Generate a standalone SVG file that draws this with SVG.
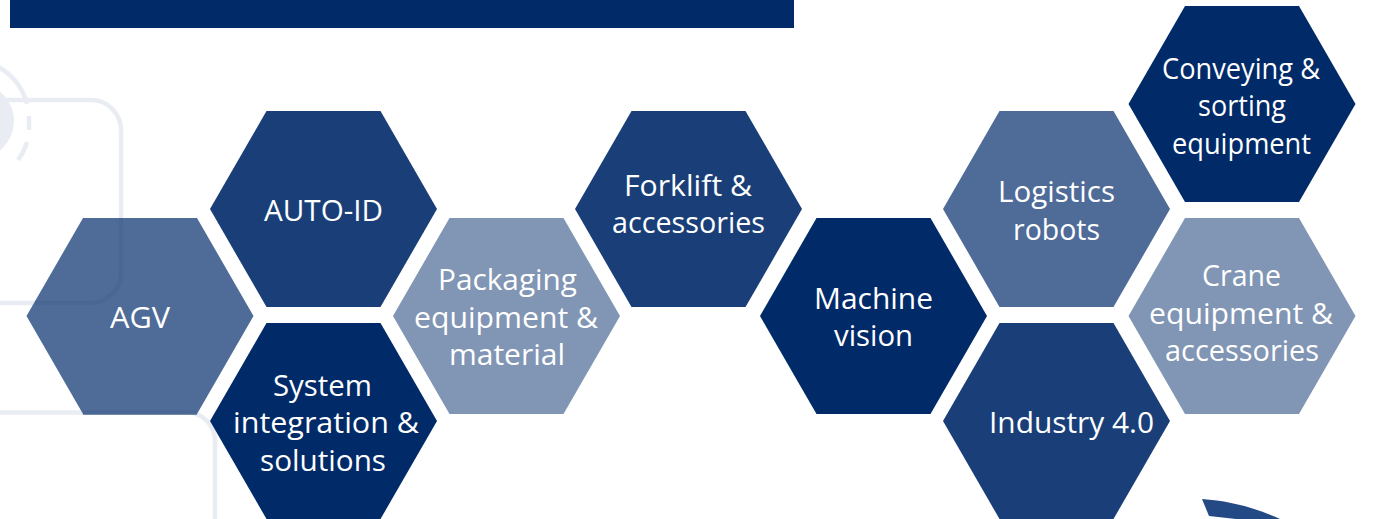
<svg xmlns="http://www.w3.org/2000/svg" width="1381" height="519" viewBox="0 0 1381 519">
<style>
.a{fill:#002a68}.b{fill:#1a3f78}.c{fill:#4f6c98}.d{fill:#8195b4}
.t{font-family:"Open Sans","Noto Sans",sans-serif;font-size:29px;fill:#fff;text-anchor:middle}
.bg{fill:none;stroke:#e9edf3;stroke-width:4.5}
.ov{fill:none;stroke:#4a6793;stroke-width:4.5}
</style>
<defs><polygon id="h" points="-113.5,0 -57,-98 57,-98 113.5,0 57,98 -57,98"/></defs>
<rect width="1381" height="519" fill="#fff"/>
<rect x="10" y="0" width="784" height="28" fill="#002a68"/>
<g id="background">
<circle cx="-24" cy="121" r="38" fill="#e9edf3"/>
<path class="bg" d="M-8 64A58 58 0 0 1 27 104"/>
<path class="bg" d="M29 116V130"/>
<path class="bg" d="M27 142A58 58 0 0 1 18 160"/>
<path class="bg" d="M5 100H91A30 30 0 0 1 121 130V273A30 30 0 0 1 91 303H0"/>
<path class="bg" d="M0 412.500H187A28 28 0 0 1 215 441V519"/>
</g>
<g id="connectors"/>
<g id="agv"><use href="#h" class="c" x="140" y="316"/><path class="ov" d="M121 218V273A30 30 0 0 1 91 303H35"/><path class="ov" d="M83 412.500H197"/><text class="t" x="140" y="328" textLength="60" lengthAdjust="spacingAndGlyphs">AGV</text></g>
<g id="auto-id"><use href="#h" class="b" x="323.5" y="209"/><text class="t" x="323.5" y="221" textLength="119" lengthAdjust="spacingAndGlyphs">AUTO-ID</text></g>
<g id="system"><use href="#h" class="a" x="323.5" y="421"/><text class="t" x="322.500" y="396" textLength="99" lengthAdjust="spacingAndGlyphs">System</text><text class="t" x="326" y="433" textLength="186" lengthAdjust="spacingAndGlyphs">integration &amp;</text><text class="t" x="323" y="471" textLength="126" lengthAdjust="spacingAndGlyphs">solutions</text></g>
<g id="packaging"><use href="#h" class="d" x="506.5" y="316"/><text class="t" x="507.500" y="290" textLength="139" lengthAdjust="spacingAndGlyphs">Packaging</text><text class="t" x="506" y="328" textLength="184" lengthAdjust="spacingAndGlyphs">equipment &amp;</text><text class="t" x="507" y="365" textLength="116" lengthAdjust="spacingAndGlyphs">material</text></g>
<g id="forklift"><use href="#h" class="b" x="688.5" y="209"/><text class="t" x="688" y="196" textLength="128" lengthAdjust="spacingAndGlyphs">Forklift &amp;</text><text class="t" x="688.500" y="233" textLength="153" lengthAdjust="spacingAndGlyphs">accessories</text></g>
<g id="machine"><use href="#h" class="a" x="873.5" y="316"/><text class="t" x="873.500" y="309" textLength="119" lengthAdjust="spacingAndGlyphs">Machine</text><text class="t" x="873.500" y="346" textLength="79" lengthAdjust="spacingAndGlyphs">vision</text></g>
<g id="logistics"><use href="#h" class="c" x="1056.5" y="209"/><text class="t" x="1056.500" y="202" textLength="117" lengthAdjust="spacingAndGlyphs">Logistics</text><text class="t" x="1056.500" y="240" textLength="87" lengthAdjust="spacingAndGlyphs">robots</text></g>
<g id="conveying"><use href="#h" class="a" x="1242" y="104"/><text class="t" x="1241" y="79" textLength="158" lengthAdjust="spacingAndGlyphs">Conveying &amp;</text><text class="t" x="1242" y="116" textLength="88" lengthAdjust="spacingAndGlyphs">sorting</text><text class="t" x="1241.500" y="154" textLength="139" lengthAdjust="spacingAndGlyphs">equipment</text></g>
<g id="crane"><use href="#h" class="d" x="1242" y="316"/><text class="t" x="1241.500" y="286" textLength="79" lengthAdjust="spacingAndGlyphs">Crane</text><text class="t" x="1241" y="324" textLength="184" lengthAdjust="spacingAndGlyphs">equipment &amp;</text><text class="t" x="1242" y="361" textLength="154" lengthAdjust="spacingAndGlyphs">accessories</text></g>
<g id="industry"><use href="#h" class="b" x="1056.5" y="421"/><text class="t" x="1071.500" y="433" textLength="165" lengthAdjust="spacingAndGlyphs">Industry 4.0</text></g>
<path id="arc" fill="#234a84" d="M1202 499C1232 501 1258 509 1280 519H1236L1209 516Z"/>
</svg>
